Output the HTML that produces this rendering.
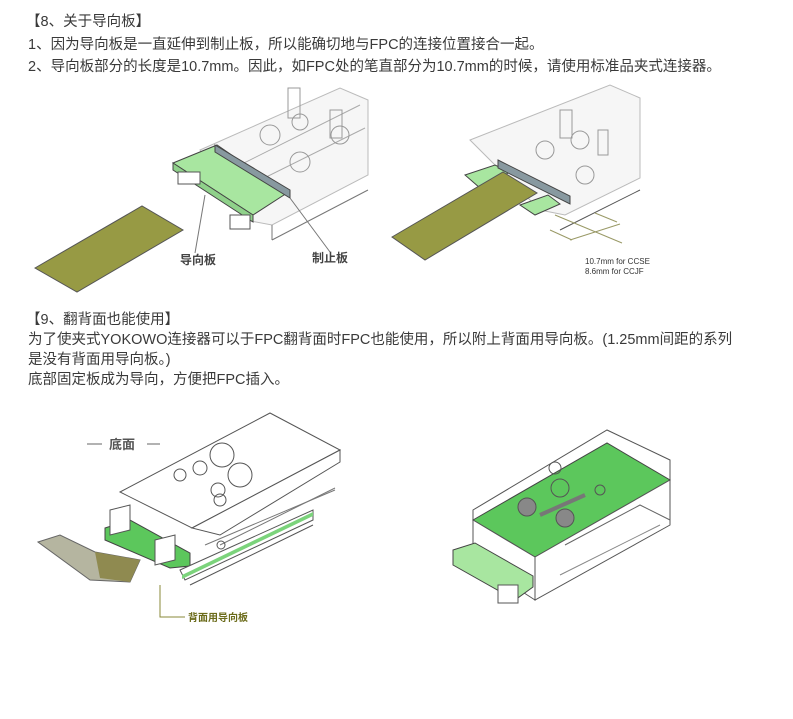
<!DOCTYPE html>
<html><head><meta charset="utf-8"><style>
html,body{margin:0;padding:0;background:#fff;}
body{width:793px;height:719px;position:relative;overflow:hidden;font-family:"Liberation Sans","Noto Sans CJK SC",sans-serif;color:#3a3a3a;}
.t{position:absolute;font-size:14.5px;white-space:nowrap;line-height:18px;}
svg{position:absolute;left:0;top:0;}
</style></head><body>
<div class="t" style="left:26px;top:13px">【8、关于导向板】</div>
<div class="t" style="left:28px;top:36px">1、因为导向板是一直延伸到制止板，所以能确切地与FPC的连接位置接合一起。</div>
<div class="t" style="left:28px;top:58px">2、导向板部分的长度是10.7mm。因此，如FPC处的笔直部分为10.7mm的时候，请使用标准品夹式连接器。</div>
<div class="t" style="left:26px;top:311px">【9、翻背面也能使用】</div>
<div class="t" style="left:28px;top:331px">为了使夹式YOKOWO连接器可以于FPC翻背面时FPC也能使用，所以附上背面用导向板。(1.25mm间距的系列</div>
<div class="t" style="left:28px;top:351px">是没有背面用导向板。)</div>
<div class="t" style="left:28px;top:371px">底部固定板成为导向，方便把FPC插入。</div>

<svg width="793" height="719" viewBox="0 0 793 719">
<g fill="none" stroke="#555" stroke-width="1">
<!-- fig1 connector body -->
<polygon points="200,150 340,88 368,100 368,175 272,225 245,220" fill="#f6f6f6" stroke="#bbb"/>
<line x1="272" y1="225" x2="272" y2="240" stroke="#777"/><line x1="272" y1="240" x2="368" y2="190" stroke="#777"/>
<line x1="230" y1="170" x2="360" y2="105" stroke="#aaa"/><line x1="250" y1="185" x2="365" y2="128" stroke="#aaa"/>
<circle cx="270" cy="135" r="10" stroke="#999"/><circle cx="300" cy="162" r="10" stroke="#999"/>
<circle cx="300" cy="122" r="8" stroke="#999"/><circle cx="340" cy="135" r="9" stroke="#999"/>
<rect x="288" y="88" width="12" height="30" stroke="#999"/><rect x="330" y="110" width="12" height="28" stroke="#999"/>
<polygon points="173,163 217,145 287,193 253,215" fill="#a8e6a0" stroke="#444"/>
<polygon points="173,163 253,215 253,222 173,170" fill="#8fd18a" stroke="#444"/>
<polygon points="215,145 290,190 290,198 215,152" fill="#8899a0" stroke="#444"/>
<rect x="178" y="172" width="22" height="12" fill="#fff"/><rect x="230" y="215" width="20" height="14" fill="#fff"/>
<line x1="205" y1="195" x2="195" y2="253" stroke="#777"/>
<line x1="290" y1="198" x2="330" y2="252" stroke="#777"/>
<polygon points="35,268 142,206 183,230 77,292" fill="#979a44" stroke="#555"/>
<!-- fig2 -->
<polygon points="470,140 610,85 640,98 640,178 565,215 540,210" fill="#f6f6f6" stroke="#bbb"/>
<line x1="560" y1="230" x2="640" y2="190" stroke="#555"/>
<circle cx="545" cy="150" r="9" stroke="#999"/><circle cx="580" cy="140" r="9" stroke="#999"/><circle cx="585" cy="175" r="9" stroke="#999"/>
<rect x="560" y="110" width="12" height="28" stroke="#999"/><rect x="598" y="130" width="10" height="25" stroke="#999"/>
<polygon points="465,175 495,165 510,172 480,188" fill="#a8e6a0" stroke="#444"/>
<polygon points="520,205 548,195 560,204 535,215" fill="#a8e6a0" stroke="#444"/>
<polygon points="498,160 570,196 570,204 498,168" fill="#8899a0" stroke="#444"/>
<polygon points="392,237 503,172 537,193 425,260" fill="#979a44" stroke="#555"/>
<line x1="555" y1="215" x2="622" y2="243" stroke="#996"/>
<line x1="595" y1="213" x2="617" y2="222" stroke="#996"/>
<line x1="550" y1="230" x2="572" y2="240" stroke="#996"/>
<line x1="570" y1="240" x2="620" y2="224" stroke="#996"/>
<!-- fig3 -->
<polygon points="120,492 270,413 340,450 192,528" fill="#fff" stroke="#555"/>
<polygon points="340,450 340,462 220,535 192,528" fill="#fff" stroke="#555"/>
<circle cx="222" cy="455" r="12"/><circle cx="240" cy="475" r="12"/><circle cx="200" cy="468" r="7"/><circle cx="218" cy="490" r="7"/><circle cx="180" cy="475" r="6"/><circle cx="220" cy="500" r="6"/>
<polygon points="105,528 130,520 190,553 190,566 170,568 105,540" fill="#5cc75c" stroke="#444"/>
<polygon points="110,510 130,505 130,530 110,535" fill="#fff"/>
<polygon points="155,540 175,535 175,560 155,565" fill="#fff"/>
<polygon points="180,570 313,510 313,520 185,580" fill="#fff" stroke="#555"/>
<polygon points="182,575 313,512 313,516 182,579" fill="#7bd37b" stroke="none"/>
<line x1="205" y1="545" x2="335" y2="490" stroke="#777"/>
<line x1="220" y1="545" x2="335" y2="488" stroke="#777"/>
<circle cx="221" cy="545" r="4"/>
<line x1="190" y1="585" x2="313" y2="525" stroke="#555"/>
<polygon points="38,542 60,535 95,552 140,560 130,582 90,580" fill="#b5b5a0" stroke="#666"/>
<polygon points="95,552 140,560 130,582 100,578" fill="#8f8a50" stroke="none"/>
<polyline points="160,585 160,617 185,617" stroke="#8a8a3a"/>
<line x1="87" y1="444" x2="102" y2="444" stroke="#666"/><line x1="147" y1="444" x2="160" y2="444" stroke="#666"/>
<!-- fig4 -->
<polygon points="473,510 607,430 670,460 670,480 535,557 473,520" fill="#fff" stroke="#555"/>
<polygon points="473,520 607,443 670,480 535,557" fill="#5cc75c" stroke="#444"/>
<polygon points="473,520 535,557 535,600 473,560" fill="#fff" stroke="#555"/>
<polygon points="535,557 670,480 670,525 535,600" fill="#fff" stroke="#555"/>
<polyline points="565,545 640,505 670,520" stroke="#666"/>
<line x1="560" y1="575" x2="660" y2="525" stroke="#888"/>
<circle cx="527" cy="507" r="9" fill="#888"/><circle cx="565" cy="518" r="9" fill="#888"/><circle cx="560" cy="488" r="9"/><circle cx="600" cy="490" r="5"/><circle cx="555" cy="468" r="6"/>
<line x1="540" y1="515" x2="585" y2="495" stroke="#777" stroke-width="4"/>
<polygon points="453,550 475,543 533,576 533,587 515,600 453,565" fill="#a8e6a0" stroke="#444"/>
<rect x="498" y="585" width="20" height="18" fill="#fff"/>
</g>
<text x="180" y="264" font-size="12" font-weight="bold" fill="#444" font-family="Liberation Sans,Noto Sans CJK SC,sans-serif">导向板</text>
<text x="312" y="262" font-size="12" font-weight="bold" fill="#444" font-family="Liberation Sans,Noto Sans CJK SC,sans-serif">制止板</text>
<text x="585" y="264" font-size="8" fill="#333" font-family="Liberation Sans,sans-serif">10.7mm for CCSE</text>
<text x="585" y="274" font-size="8" fill="#333" font-family="Liberation Sans,sans-serif">8.6mm for CCJF</text>
<text x="109" y="449" font-size="13" font-weight="bold" fill="#555" font-family="Liberation Sans,Noto Sans CJK SC,sans-serif">底面</text>
<text x="188" y="621" font-size="10" font-weight="bold" fill="#6b6b1a" font-family="Liberation Sans,Noto Sans CJK SC,sans-serif">背面用导向板</text>
</svg>
</body></html>
